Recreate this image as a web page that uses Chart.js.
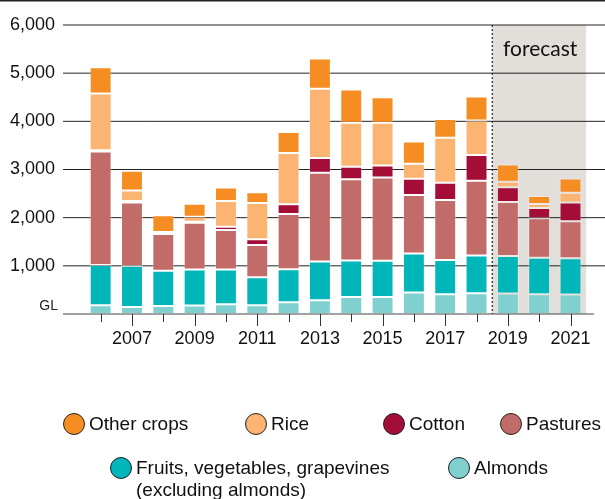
<!DOCTYPE html>
<html>
<head>
<meta charset="utf-8">
<script src="https://cdn.jsdelivr.net/npm/chart.js@4"></script>
<style>
  html, body { margin: 0; padding: 0; background: #fff; }
  #wrap { position: relative; width: 605px; height: 499px; overflow: hidden; }
  #wrap canvas { position: absolute; left: 0; top: 0; }
  .lg { position: absolute; font-family: "Liberation Sans", Arial, sans-serif; font-size: 19px; color: #111; line-height: 22px; white-space: nowrap; }
  .lg .dot { position: absolute; left: 0; width: 20px; height: 20px; border: 1.3px solid #222; border-radius: 50%; box-sizing: content-box; }
  .lg .txt { position: absolute; }
</style>
</head>
<body>
<div id="wrap"><canvas id="c" width="605" height="499"></canvas></div>
<script>
// ---- data ----
const years = ['2006','2007','2008','2009','2010','2011','2012','2013','2014','2015','2016','2017','2018','2019','2020','2021'];
const almonds  = [180, 146, 167, 175, 202, 181, 244, 285, 354, 354, 446, 410, 431, 425, 410, 404];
const fruits   = [835, 848, 729, 750, 723, 584, 687, 807, 758, 750, 812, 709, 786, 777, 757, 756];
const pastures = [2360, 1319, 764, 971, 819, 666, 1146, 1839, 1688, 1729, 1215, 1250, 1548, 1125, 821, 765];
const cotton   = [25, 35, 10, 21, 69, 119, 202, 310, 256, 250, 333, 354, 535, 306, 214, 388];
const rice     = [1177, 215, 32, 104, 535, 756, 1062, 1437, 917, 890, 313, 937, 715, 111, 83, 202];
const other    = [548, 410, 348, 270, 277, 223, 438, 625, 687, 527, 460, 390, 500, 360, 167, 298];
const yTicks   = [0, 1000, 2000, 3000, 4000, 5000, 6000];
const forecastFrom = '2019';
const forecastLabel = 'forecast';
const unitLabel = 'GL';

const seriesNames = ['Almonds', 'Fruits, vegetables, grapevines\n(excluding almonds)', 'Pastures', 'Cotton', 'Rice', 'Other crops'];
const seriesValues = [almonds, fruits, pastures, cotton, rice, other];
const seriesColors = ['#80D0D0', '#00B6B8', '#C26C6A', '#A30D37', '#FBB472', '#F68D22'];

// ---- chart ----
const decor = {
  id: 'decor',
  beforeDatasetsDraw(chart) {
    const {ctx, chartArea: a, scales: {x, y}} = chart;
    const step = x.getPixelForValue(1) - x.getPixelForValue(0);
    const fi = years.indexOf(forecastFrom);
    const fx = x.getPixelForValue(fi) - step / 2;
    const top = y.getPixelForValue(yTicks[yTicks.length - 1]);
    const bot = y.getPixelForValue(0);
    ctx.save();
    // forecast shading
    ctx.fillStyle = '#E2DFDB';
    ctx.fillRect(fx, top, a.right - fx, bot - top);
    // gridlines
    ctx.strokeStyle = '#222';
    ctx.lineWidth = 1;
    yTicks.forEach(v => {
      if (v === 0) return;
      const py = y.getPixelForValue(v);
      ctx.beginPath(); ctx.moveTo(a.left - 22, py); ctx.lineTo(chart.width, py); ctx.stroke();
    });
    // dotted divider
    ctx.setLineDash([2, 2]);
    ctx.strokeStyle = '#000';
    ctx.beginPath(); ctx.moveTo(fx, top); ctx.lineTo(fx, bot); ctx.stroke();
    ctx.setLineDash([]);
    // forecast text
    ctx.fillStyle = '#111';
    ctx.font = '21px Lato, "Open Sans", sans-serif';
    ctx.textAlign = 'center';
    ctx.textBaseline = 'alphabetic';
    ctx.fillText(forecastLabel, (fx + a.right) / 2 + 1, top + 31);
    ctx.restore();
  },
  afterDatasetsDraw(chart) {
    const {ctx, chartArea: a, scales: {x, y}} = chart;
    const bot = y.getPixelForValue(0);
    ctx.save();
    // top border
    ctx.fillStyle = '#222';
    ctx.fillRect(0, 0, chart.width, 1.5);
    // baseline
    ctx.strokeStyle = '#444';
    ctx.lineWidth = 1;
    ctx.beginPath(); ctx.moveTo(a.left - 22, bot); ctx.lineTo(a.right + 8, bot); ctx.stroke();
    // tick marks
    ctx.strokeStyle = '#333';
    years.forEach((yr, i) => {
      const px = Math.round(x.getPixelForValue(i)) + 0.5;
      const len = (+yr % 2 === 1) ? 12 : 8;
      ctx.beginPath(); ctx.moveTo(px, bot); ctx.lineTo(px, bot + len); ctx.stroke();
    });
    // unit label
    ctx.fillStyle = '#222';
    ctx.font = '14px "Liberation Sans", Arial, sans-serif';
    ctx.textAlign = 'right';
    ctx.textBaseline = 'middle';
    ctx.fillText(unitLabel, a.left - 27, bot - 8);
    ctx.restore();
  }
};

const chart = new Chart(document.getElementById('c'), {
  type: 'bar',
  data: {
    labels: years,
    datasets: seriesNames.map((n, i) => ({
      label: n,
      data: seriesValues[i],
      backgroundColor: seriesColors[i],
      borderColor: 'rgba(255,255,255,0.35)',
      borderWidth: 1,
      borderSkipped: false,
      categoryPercentage: 1,
      barPercentage: 0.7
    }))
  },
  options: {
    responsive: false,
    animation: false,
    layout: { padding: { top: 25, right: 15, left: 10, bottom: 145 } },
    plugins: { legend: { display: false }, tooltip: { enabled: false } },
    scales: {
      x: {
        stacked: true,
        grid: { display: false, drawTicks: false },
        border: { display: false },
        ticks: {
          autoSkip: false, maxRotation: 0, padding: 14,
          color: '#111',
          font: { family: '"Liberation Sans", Arial, sans-serif', size: 18 },
          callback: (v, i) => (+years[i] % 2 === 1) ? years[i] : ''
        },
        afterFit: s => { s.height = 40; }
      },
      y: {
        stacked: true,
        min: 0, max: 6000,
        grid: { display: false, drawTicks: false },
        border: { display: false },
        ticks: {
          stepSize: 1000, padding: 0, crossAlign: 'far', color: '#111',
          font: { family: '"Liberation Sans", Arial, sans-serif', size: 18 },
          callback: v => v === 0 ? '' : v.toLocaleString('en-US')
        },
        afterFit: s => { s.width = 75; }
      }
    }
  },
  plugins: [decor]
});

// ---- legend (HTML) ----
const legendSpots = [
  // [left of dot, center y] in legend order: Other crops, Rice, Cotton, Pastures, Fruits, Almonds
  [63, 424], [245, 424], [383, 424], [500, 424], [110, 468], [448, 468]
];
const wrap = document.getElementById('wrap');
const order = [5, 4, 3, 2, 1, 0];
order.forEach((di, k) => {
  const [lx, cy] = legendSpots[k];
  const el = document.createElement('div');
  el.className = 'lg';
  el.style.left = lx + 'px';
  el.style.top = (cy - 11) + 'px';
  const dot = document.createElement('span');
  dot.className = 'dot';
  dot.style.background = seriesColors[di];
  dot.style.top = '0px';
  const txt = document.createElement('span');
  txt.className = 'txt';
  txt.style.left = '26px';
  txt.style.top = '0px';
  txt.innerHTML = seriesNames[di].split('\n').map(s => s.replace(/&/g,'&amp;')).join('<br>');
  el.appendChild(dot);
  el.appendChild(txt);
  wrap.appendChild(el);
});
</script>
</body>
</html>
